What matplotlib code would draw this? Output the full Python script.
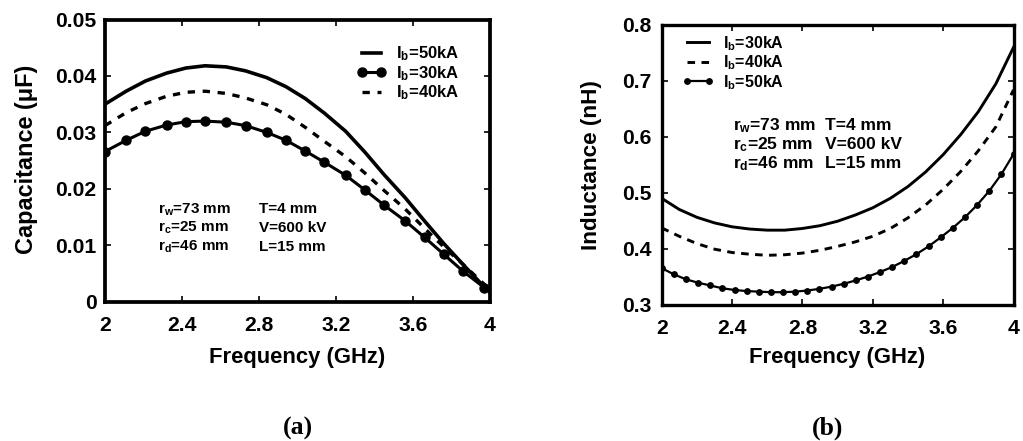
import matplotlib
matplotlib.use("Agg")
import matplotlib.pyplot as plt

plt.rcParams['font.family'] = ['Liberation Sans', 'DejaVu Sans']
plt.rcParams['font.weight'] = 'bold'
plt.rcParams['mathtext.fontset'] = 'custom'
plt.rcParams['mathtext.rm'] = 'Liberation Sans:bold'
plt.rcParams['mathtext.it'] = 'Liberation Sans:bold'
plt.rcParams['mathtext.bf'] = 'Liberation Sans:bold'
plt.rcParams['mathtext.default'] = 'rm'

# ---------------- data: panel (a) capacitance ----------------
freq_a = [2.00, 2.11, 2.21, 2.32, 2.42, 2.52, 2.63, 2.73, 2.84, 2.94,
          3.04, 3.14, 3.25, 3.35, 3.45, 3.56, 3.66, 3.76, 3.86, 3.97, 4.00]
cap_50 = [0.0350, 0.0373, 0.0391, 0.0405, 0.0414, 0.0418, 0.0416, 0.0409, 0.0397, 0.0381,
          0.0360, 0.0334, 0.0302, 0.0265, 0.0225, 0.0184, 0.0143, 0.0103, 0.0066, 0.0026, 0.0017]
cap_30 = [0.0266, 0.0286, 0.0302, 0.0313, 0.0319, 0.0320, 0.0318, 0.0312, 0.0300, 0.0286,
          0.0267, 0.0247, 0.0224, 0.0198, 0.0171, 0.0143, 0.0114, 0.0084, 0.0054, 0.0025, 0.0020]
cap_40 = [0.0312, 0.0335, 0.0351, 0.0364, 0.0371, 0.0373, 0.0369, 0.0361, 0.0349, 0.0332,
          0.0309, 0.0284, 0.0257, 0.0228, 0.0197, 0.0164, 0.0130, 0.0097, 0.0066, 0.0031, 0.0022]
xticks_a = [2, 2.4, 2.8, 3.2, 3.6, 4]
xticklabels_a = ['2', '2.4', '2.8', '3.2', '3.6', '4']
yticks_a = [0, 0.01, 0.02, 0.03, 0.04, 0.05]
yticklabels_a = ['0', '0.01', '0.02', '0.03', '0.04', '0.05']

# ---------------- data: panel (b) inductance ----------------
freq_b = [2.0, 2.1, 2.2, 2.3, 2.4, 2.5, 2.6, 2.7, 2.8, 2.9, 3.0,
          3.1, 3.2, 3.3, 3.4, 3.5, 3.6, 3.7, 3.8, 3.9, 4.0]
ind_30 = [0.490, 0.470, 0.456, 0.446, 0.439, 0.435, 0.433, 0.433, 0.436, 0.441, 0.449,
          0.460, 0.473, 0.490, 0.511, 0.537, 0.568, 0.604, 0.645, 0.695, 0.760]
ind_40 = [0.437, 0.422, 0.409, 0.399, 0.393, 0.390, 0.388, 0.389, 0.392, 0.397, 0.404,
          0.412, 0.422, 0.436, 0.455, 0.478, 0.506, 0.538, 0.575, 0.618, 0.684]
freq_b_mk = [2.000, 2.069, 2.138, 2.207, 2.276, 2.345, 2.414, 2.483, 2.552, 2.621,
             2.690, 2.759, 2.828, 2.897, 2.966, 3.034, 3.103, 3.172, 3.241, 3.310,
             3.379, 3.448, 3.517, 3.586, 3.655, 3.724, 3.793, 3.862, 3.931, 4.000]
ind_50 = [0.365, 0.354, 0.345, 0.339, 0.334, 0.329, 0.326, 0.324, 0.323, 0.322,
          0.322, 0.323, 0.325, 0.328, 0.332, 0.337, 0.343, 0.350, 0.358, 0.367,
          0.378, 0.390, 0.404, 0.420, 0.437, 0.456, 0.478, 0.503, 0.533, 0.569]
xticks_b = [2, 2.4, 2.8, 3.2, 3.6, 4]
xticklabels_b = ['2', '2.4', '2.8', '3.2', '3.6', '4']
yticks_b = [0.3, 0.4, 0.5, 0.6, 0.7, 0.8]
yticklabels_b = ['0.3', '0.4', '0.5', '0.6', '0.7', '0.8']

params_left = [r'r$_\mathrm{w}$=73 mm', r'r$_\mathrm{c}$=25 mm', r'r$_\mathrm{d}$=46 mm']
params_right = ['T=4 mm', 'V=600 kV', 'L=15 mm']

W, H = 1023, 441
fig = plt.figure(figsize=(W / 100, H / 100), dpi=100)

def rect(x0, x1, ytop, ybot):
    return [x0 / W, (H - ybot) / H, (x1 - x0) / W, (ybot - ytop) / H]

axa = fig.add_axes(rect(105, 490, 19.5, 301.7))
axb = fig.add_axes(rect(661.7, 1013.5, 25, 304.5))

# ---- panel (a)
axa.plot(freq_a, cap_50, color='black', lw=2.6, label=r'I$_\mathrm{b}$=50kA', zorder=3,
         solid_joinstyle='round')
axa.plot(freq_a, cap_30, color='black', lw=2.2, marker='o', markersize=6.5,
         markevery=slice(0, 20), label=r'I$_\mathrm{b}$=30kA', zorder=3,
         solid_joinstyle='round')
axa.plot(freq_a, cap_40, color='black', lw=2.4, linestyle=(0, (2.2, 2.3)),
         label=r'I$_\mathrm{b}$=40kA', zorder=3)
axa.set_xlim(2, 4)
axa.set_ylim(0, 0.05)
axa.set_xticks(xticks_a)
axa.set_xticklabels(xticklabels_a)
axa.set_yticks(yticks_a)
axa.set_yticklabels(yticklabels_a)
for s in axa.spines.values():
    s.set_linewidth(2.7)
axa.tick_params(direction='in', length=4.5, width=1.2, top=True, right=True,
                labelsize=15.2)
axa.tick_params(axis='x', pad=10.5)
axa.tick_params(axis='y', pad=6)
axa.legend(loc='upper left', bbox_to_anchor=(0.655, 0.912), frameon=False,
           fontsize=12, handlelength=1.75, handletextpad=0.6, labelspacing=0.05,
           borderpad=0, borderaxespad=0, numpoints=2)
for i, (lab1, lab2) in enumerate(zip(params_left, params_right)):
    yy = [0.313, 0.247, 0.181][i]
    axa.text(0.138, yy, lab1, transform=axa.transAxes, fontsize=11, va='baseline')
    axa.text(0.40, yy, lab2, transform=axa.transAxes, fontsize=11, va='baseline')

# ---- panel (b)
axb.plot(freq_b, ind_30, color='black', lw=2.1, label=r'I$_\mathrm{b}$=30kA', zorder=3,
         solid_joinstyle='round')
axb.plot(freq_b, ind_40, color='black', lw=2.1, linestyle=(0, (2.6, 2.2)),
         label=r'I$_\mathrm{b}$=40kA', zorder=3)
axb.plot(freq_b_mk, ind_50, color='black', lw=1.6, marker='o', markersize=3.9,
         label=r'I$_\mathrm{b}$=50kA', zorder=3, solid_joinstyle='round')
axb.set_xlim(2, 4)
axb.set_ylim(0.3, 0.8)
axb.set_xticks(xticks_b)
axb.set_xticklabels(xticklabels_b)
axb.set_yticks(yticks_b)
axb.set_yticklabels(yticklabels_b)
for s in axb.spines.values():
    s.set_linewidth(2.4)
axb.tick_params(direction='in', length=4.5, width=1.2, top=True, right=True,
                labelsize=15.2)
axb.tick_params(axis='x', pad=10.5)
axb.tick_params(axis='y', pad=7.5)
axb.legend(loc='upper left', bbox_to_anchor=(0.058, 0.968), frameon=False,
           fontsize=11.5, handlelength=2.0, handletextpad=0.55, labelspacing=0.05,
           borderpad=0, borderaxespad=0, numpoints=2)
for i, (lab1, lab2) in enumerate(zip(params_left, params_right)):
    yy = [0.624, 0.555, 0.487][i]
    axb.text(0.2027, yy, lab1, transform=axb.transAxes, fontsize=12.5, va='baseline')
    axb.text(0.464, yy, lab2, transform=axb.transAxes, fontsize=12.5, va='baseline')

# ---- axis labels and captions
fig.text(27 / W, 1 - 159 / H, 'Capacitance (\u03bcF)', rotation=90, ha='center',
         va='center', fontsize=16.9)
fig.text(592 / W, 1 - 165 / H, 'Inductance (nH)', rotation=90, ha='center',
         va='center', fontsize=16.2)
fig.text(297.5 / W, 1 - 363 / H, 'Frequency (GHz)', ha='center', va='baseline', fontsize=15.8)
fig.text(837 / W, 1 - 363 / H, 'Frequency (GHz)', ha='center', va='baseline', fontsize=15.8)
fig.text(298 / W, 1 - 435 / H, '(a)', ha='center', va='baseline', fontsize=18.5,
         family='Liberation Serif', weight='bold')
fig.text(828 / W, 1 - 435 / H, '(b)', ha='center', va='baseline', fontsize=18.5,
         family='Liberation Serif', weight='bold')

fig.savefig('out.png', dpi=100)
